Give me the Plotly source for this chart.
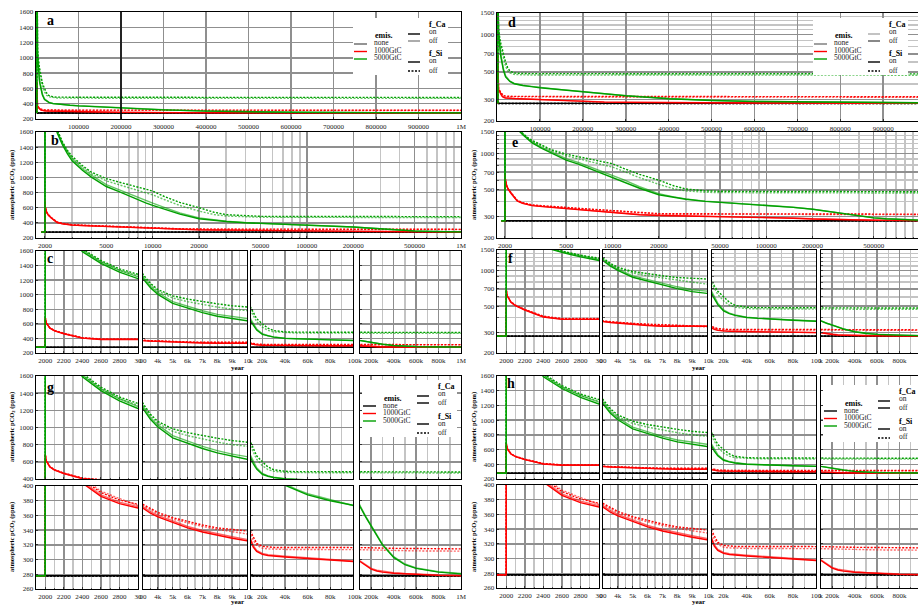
import math
import plotly.graph_objects as go

W, H = 918, 605

# ---------------- data ----------------
years = [1900, 1999, 2000, 2010, 2050, 2100, 2200, 2300, 2400, 2600,
         2800, 3000, 3500, 4000, 5000, 6000, 7000, 8000, 9000, 10000,
         12000, 15000, 20000, 25000, 30000, 40000, 50000, 60000, 80000, 100000,
         150000, 200000, 250000, 300000, 400000, 500000, 600000, 800000, 1000000]

none_si_on_ca_on = [278, 278, 278, 278, 278, 278, 278, 278, 278, 278,
                    278, 278, 278, 278, 278, 278, 278, 278, 278, 278,
                    278, 278, 278, 278, 278, 278, 278, 278, 278, 278,
                    278, 278, 278, 278, 278, 278, 278, 278, 278]
none_si_on_ca_off = [278, 278, 278, 278, 278, 278, 278, 278, 278, 278,
                     278, 278, 278, 278, 278, 278, 278, 278, 278, 278,
                     278, 278, 278, 278, 278, 278, 278, 278, 278, 278,
                     278, 278, 278, 278, 278, 278, 278, 278, 278]
none_si_off_ca_on = [277.6, 277.6, 277.6, 277.6, 277.6, 277.6, 277.6, 277.6, 277.6, 277.6,
                     277.6, 277.6, 277.6, 277.6, 277.6, 277.6, 277.6, 277.6, 277.6, 277.6,
                     277.6, 277.6, 277.6, 277.6, 277.6, 277.6, 277.6, 277.6, 277.6, 277.6,
                     277.6, 277.6, 277.6, 277.6, 277.6, 277.6, 277.6, 277.6, 277.6]
none_si_off_ca_off = [277.6, 277.6, 277.6, 277.6, 277.6, 277.6, 277.6, 277.6, 277.6, 277.6,
                      277.6, 277.6, 277.6, 277.6, 277.6, 277.6, 277.6, 277.6, 277.6, 277.6,
                      277.6, 277.6, 277.6, 277.6, 277.6, 277.6, 277.6, 277.6, 277.6, 277.6,
                      277.6, 277.6, 277.6, 277.6, 277.6, 277.6, 277.6, 277.6, 277.6]

red_si_on_ca_on = [278, 278, 685, 612, 540, 504, 464, 431, 404, 386,
                   376, 370, 363, 358, 350, 343, 337.5, 333, 329, 325.5,
                   317, 311, 307, 305.5, 304.5, 303.5, 302.5, 301.5, 299.5, 297,
                   291.5, 287, 284.5, 283, 281.5, 280.5, 279.5, 278.5, 278]
red_si_on_ca_off = [278, 278, 687, 615, 543, 506, 466, 433, 406, 388,
                    378, 372, 365, 360, 352, 345, 339.5, 335, 331, 327.5,
                    319, 312.5, 308.5, 306.5, 305.5, 304.5, 303.5, 302.5, 300.5, 298,
                    292.5, 288, 285.5, 284, 282, 281, 280, 279, 278.5]
red_si_off_ca_on = [278, 278, 686, 614, 543, 507, 468, 436, 409, 391,
                    381, 375, 369, 364, 357, 351.5, 347, 343, 340, 337,
                    329, 322, 318, 317, 316.5, 316.5, 316.5, 316.5, 316.5, 316.5,
                    316.3, 316, 315.8, 315.6, 315.3, 315, 314.8, 314.6, 314.5]
red_si_off_ca_off = [278, 278, 688, 617, 545, 509, 470, 438, 411, 393,
                     383, 373.5, 367.5, 362, 355, 349.5, 345, 341, 337, 334,
                     326, 319.5, 315.5, 314.5, 314, 313.8, 313.7, 313.6, 313.5, 313.5,
                     313.3, 313, 312.8, 312.6, 312.3, 312, 311.8, 311.6, 311.5]

green_si_on_ca_on = [278, 278, 2900, 2750, 2500, 2330, 2040, 1790, 1590, 1430,
                     1310, 1220, 1095, 1005, 880, 815, 755, 705, 665, 630,
                     580, 515, 455, 432, 418, 401, 394, 388, 380, 372,
                     358, 345, 332, 320, 303, 293, 288, 283, 280.5]
green_si_on_ca_off = [278, 278, 2920, 2770, 2520, 2350, 2060, 1810, 1610, 1450,
                      1335, 1245, 1115, 1030, 905, 840, 780, 730, 690, 660,
                      600, 530, 465, 437, 421, 403, 395.5, 389.5, 381.5, 373.5,
                      359, 346, 333, 321, 304, 294, 288.5, 283.5, 281]
green_si_off_ca_on = [278, 278, 2950, 2800, 2550, 2380, 2090, 1840, 1630, 1470,
                      1355, 1280, 1155, 1070, 985, 940, 905, 875, 848, 820,
                      745, 670, 600, 540, 508, 490, 486, 485, 484, 484,
                      484, 484, 483.5, 483.5, 483, 483, 482.5, 482.5, 482]
green_si_off_ca_off = [278, 278, 2930, 2780, 2530, 2360, 2070, 1820, 1610, 1455,
                       1335, 1260, 1135, 1050, 955, 905, 865, 830, 800, 770,
                       705, 630, 555, 510, 490, 477, 474, 473, 472, 472,
                       472, 472, 471.5, 471.5, 471, 471, 470.5, 470.5, 470]

emission_labels = ["none", "1000GtC", "5000GtC"]
switch_labels = ["on", "off"]

# tick values / labels
lin_x_ticks = [100000, 200000, 300000, 400000, 500000, 600000, 700000, 800000, 900000, 1000000]
lin_x_text = ["100000", "200000", "300000", "400000", "500000", "600000", "700000", "800000", "900000", "1M"]
log_x_ticks = [2000, 5000, 10000, 20000, 50000, 100000, 200000, 500000, 1000000]
log_x_text = ["2000", "5000", "10000", "20000", "50000", "100000", "200000", "500000", "1M"]
log_x_minor = [3000, 4000, 6000, 7000, 8000, 9000, 30000, 40000, 60000, 70000, 80000, 90000,
               300000, 400000, 600000, 700000, 800000, 900000]
seg1_ticks = [2000, 2200, 2400, 2600, 2800, 3000]
seg1_text = ["2000", "2200", "2400", "2600", "2800", "30"]
seg1_minor = [1900, 2100, 2300, 2500, 2700, 2900]
seg2_ticks = [3000, 4000, 5000, 6000, 7000, 8000, 9000, 10000]
seg2_text = ["00", "4k", "5k", "6k", "7k", "8k", "9k", "10"]
seg2_minor = [3500, 4500, 5500, 6500, 7500, 8500, 9500]
seg3_ticks = [10000, 20000, 40000, 60000, 80000, 100000]
seg3_text = ["k", "20k", "40k", "60k", "80k", "100"]
seg3_minor = [30000, 50000, 70000, 90000]
seg4_ticks = [100000, 200000, 400000, 600000, 800000, 1000000]
seg4_text = ["k", "200k", "400k", "600k", "800k", "1M"]
seg4_minor = [300000, 500000, 700000, 900000]
seg_ranges_left = [[1900, 3000], [3000, 10000], [10000, 100000], [100000, 1000000]]
seg_ranges_right = [[1900, 3000], [3000, 10000], [10000, 100000], [100000, 965000]]

y_full_ticks = [200, 400, 600, 800, 1000, 1200, 1400, 1600]
y_upper_ticks = [400, 600, 800, 1000, 1200, 1400, 1600]
y_lower_ticks = [260, 280, 300, 320, 340, 360, 380, 400]
y_log_ticks = [200, 300, 500, 700, 1000, 1500]
y_log_minor = [400, 600, 800, 900, 1100, 1200, 1300, 1400]

# ---------------- styling ----------------
FONT = "Liberation Serif"
COLORS = {"none": "#000000", "1000GtC": "#ff0000", "5000GtC": "#00a000"}
series = [
    ("none", "on", "on", none_si_on_ca_on), ("none", "on", "off", none_si_on_ca_off),
    ("none", "off", "on", none_si_off_ca_on), ("none", "off", "off", none_si_off_ca_off),
    ("1000GtC", "on", "on", red_si_on_ca_on), ("1000GtC", "on", "off", red_si_on_ca_off),
    ("1000GtC", "off", "on", red_si_off_ca_on), ("1000GtC", "off", "off", red_si_off_ca_off),
    ("5000GtC", "on", "on", green_si_on_ca_on), ("5000GtC", "on", "off", green_si_on_ca_off),
    ("5000GtC", "off", "on", green_si_off_ca_on), ("5000GtC", "off", "off", green_si_off_ca_off),
]

fig = go.Figure()
layout = dict(width=W, height=H, autosize=False, margin=dict(l=0, r=0, t=0, b=0, pad=0, autoexpand=False),
              paper_bgcolor="white", plot_bgcolor="white", showlegend=False,
              font=dict(family=FONT, size=7, color="#222"))
shapes = []
annotations = []
count = [0]


def minor_style(vals):
    return dict(tickmode="array", tickvals=vals, showgrid=True, gridcolor="#c4c4c4",
                gridwidth=1.5, ticks="inside", ticklen=1.5, tickcolor="#555")


def base_axis():
    return dict(showline=True, mirror=True, linecolor="black", linewidth=1.4,
                showgrid=True, gridcolor="#8f8f8f", gridwidth=1.5, zeroline=False,
                ticks="inside", ticklen=2, tickcolor="#333", tickwidth=1,
                automargin=False, tickangle=0,
                tickfont=dict(family=FONT, size=7, color="#222"), tickmode="array")


def ax(kind, rng, tv, tt=None, minor=None, labels=True):
    d = base_axis()
    if kind == "log":
        d["type"] = "log"
        d["range"] = [math.log10(rng[0]), math.log10(rng[1])]
    else:
        d["type"] = "linear"
        d["range"] = rng
    d["tickvals"] = tv
    d["ticktext"] = tt if tt is not None else [str(v) for v in tv]
    d["showticklabels"] = labels
    if minor:
        d["minor"] = minor_style(minor)
    return d


def add_subplot(xpx, ypx, xa, ya, emissions=("none", "1000GtC", "5000GtC")):
    count[0] += 1
    n = count[0]
    sfx = "" if n == 1 else str(n)
    xref, yref = "x" + sfx, "y" + sfx
    xa = dict(xa, domain=[xpx[0] / W, xpx[1] / W], anchor=yref)
    ya = dict(ya, domain=[1 - ypx[1] / H, 1 - ypx[0] / H], anchor=xref)
    layout["xaxis" + sfx] = xa
    layout["yaxis" + sfx] = ya
    for emis, si, ca, vals in series:
        if emis not in emissions:
            continue
        fig.add_trace(go.Scatter(
            x=years, y=vals, xaxis=xref, yaxis=yref, mode="lines", hoverinfo="skip",
            opacity=1.0 if ca == "on" else 0.6,
            line=dict(color=COLORS[emis], width=1.4,
                      dash="solid" if si == "on" else "2px,1.5px")))
    return xref, yref


# ---------------- panels ----------------
seg_ticks = [(seg1_ticks, seg1_text, seg1_minor), (seg2_ticks, seg2_text, seg2_minor),
             (seg3_ticks, seg3_text, seg3_minor), (seg4_ticks, seg4_text, seg4_minor)]
left_segs = [[36, 138], [143, 247], [251, 353], [360, 461]]
right_segs = [[497, 599], [603, 707], [712, 816], [821, 918]]

# left column
xa_ref, _ = add_subplot([36, 461], [12, 119],
                        ax("lin", [0, 1000000], lin_x_ticks, lin_x_text),
                        ax("lin", [200, 1600], y_full_ticks))
shapes.append(dict(type="line", xref=xa_ref, yref="y domain", x0=200000, x1=200000, y0=0, y1=1,
                   line=dict(color="black", width=1.5)))
add_subplot([36, 461], [132, 238],
            ax("log", [1750, 1000000], log_x_ticks, log_x_text, log_x_minor),
            ax("lin", [200, 1600], y_full_ticks))
for i, (xp, (tv, tt, mn)) in enumerate(zip(left_segs, seg_ticks)):
    add_subplot(xp, [251, 353], ax("lin", seg_ranges_left[i], tv, tt, mn),
                ax("lin", [200, 1600], y_full_ticks, labels=(i == 0)))
for i, (xp, (tv, tt, mn)) in enumerate(zip(left_segs, seg_ticks)):
    add_subplot(xp, [376, 479], ax("lin", seg_ranges_left[i], tv, tt, mn, labels=False),
                ax("lin", [400, 1600], y_upper_ticks, labels=(i == 0)))
for i, (xp, (tv, tt, mn)) in enumerate(zip(left_segs, seg_ticks)):
    add_subplot(xp, [486, 589], ax("lin", seg_ranges_left[i], tv, tt, mn),
                ax("lin", [260, 400], y_lower_ticks, labels=(i == 0)))

# right column
add_subplot([497, 918], [13, 121],
            ax("lin", [0, 981000], lin_x_ticks, lin_x_text),
            ax("log", [200, 1500], y_log_ticks, minor=y_log_minor))
add_subplot([497, 918], [132, 238],
            ax("log", [1775, 970000], log_x_ticks, log_x_text, log_x_minor),
            ax("log", [200, 1500], y_log_ticks, minor=y_log_minor))
for i, (xp, (tv, tt, mn)) in enumerate(zip(right_segs, seg_ticks)):
    add_subplot(xp, [250, 353], ax("lin", seg_ranges_right[i], tv, tt, mn),
                ax("log", [200, 1500], y_log_ticks, minor=y_log_minor, labels=(i == 0)))
for i, (xp, (tv, tt, mn)) in enumerate(zip(right_segs, seg_ticks)):
    add_subplot(xp, [376, 479], ax("lin", seg_ranges_right[i], tv, tt, mn, labels=False),
                ax("lin", [200, 1600], y_full_ticks, labels=(i == 0)))
for i, (xp, (tv, tt, mn)) in enumerate(zip(right_segs, seg_ticks)):
    add_subplot(xp, [485, 588], ax("lin", seg_ranges_right[i], tv, tt, mn),
                ax("lin", [260, 400], y_lower_ticks, labels=(i == 0)),
                emissions=("none", "1000GtC"))


# ---------------- annotations ----------------
def px_note(x, y, text, size=7, bold=False, xanchor="left", angle=0, color="#000000"):
    annotations.append(dict(x=x / W, y=1 - y / H, xref="paper", yref="paper",
                            text=("<b>%s</b>" % text) if bold else text, showarrow=False,
                            xanchor=xanchor, yanchor="middle", textangle=angle,
                            font=dict(family=FONT, size=size, color=color)))


for letter, (lx, ly) in {"a": (45, 20), "b": (49, 140), "c": (45, 259), "g": (45, 387),
                         "d": (506, 23), "e": (510, 142), "f": (506, 259), "h": (505, 383)}.items():
    px_note(lx, ly, letter, size=14, bold=True)

ytitle = "atmospheric pCO<sub>2</sub> (ppm)"
for (tx, ty) in [(12, 185), (474, 185), (12, 427), (12, 537), (474, 427), (474, 537)]:
    px_note(tx, ty, ytitle, size=6.5, bold=True, xanchor="center", angle=-90)
for (tx, ty) in [(237, 368), (698, 368), (237, 602), (698, 602)]:
    px_note(tx, ty, "year", size=7, bold=True, xanchor="center")


def legend(ox, oy, none_col, ca_on_col, ca_off_col):
    def ln(x0, x1, y, col, dash="solid"):
        shapes.append(dict(type="line", xref="paper", yref="paper",
                           x0=(ox + x0) / W, x1=(ox + x1) / W,
                           y0=1 - (oy + y) / H, y1=1 - (oy + y) / H,
                           line=dict(color=col, width=1.4, dash=dash)))
    shapes.append(dict(type="rect", xref="paper", yref="paper",
                       x0=ox / W, x1=(ox + 95) / W, y0=1 - (oy + 57) / H, y1=1 - oy / H,
                       fillcolor="white", line=dict(width=0)))
    px_note(ox + 20, oy + 18, "emis.", size=8, bold=True)
    cols = [none_col, COLORS["1000GtC"], COLORS["5000GtC"]]
    for k, lab in enumerate(emission_labels):
        ln(1, 14, 26 + 7.5 * k, cols[k])
        px_note(ox + 19, oy + 25 + 7.5 * k, lab, size=7.5, color="#222222")
    px_note(ox + 74, oy + 6, "f_Ca", size=8, bold=True)
    ln(55, 67, 16, ca_on_col)
    ln(55, 67, 23, ca_off_col)
    px_note(ox + 74, oy + 13, switch_labels[0], size=7.5, color="#222222")
    px_note(ox + 74, oy + 22, switch_labels[1], size=7.5, color="#222222")
    px_note(ox + 74, oy + 36, "f_Si", size=8, bold=True)
    ln(55, 67, 44, "black")
    ln(55, 67, 53, "black", dash="2px,1.5px")
    px_note(ox + 74, oy + 43, switch_labels[0], size=7.5, color="#222222")
    px_note(ox + 74, oy + 52, switch_labels[1], size=7.5, color="#222222")


legend(353, 18, "#666666", "#000000", "#888888")
legend(813, 18, "#777777", "#aaaaaa", "#555555")
legend(362, 380, "#000000", "#000000", "#000000")
legend(823, 385, "#000000", "#000000", "#000000")

layout["shapes"] = shapes
layout["annotations"] = annotations
fig.update_layout(**layout)
fig.write_html("out.html", config={"displayModeBar": False, "staticPlot": True},
               post_script="document.body.style.margin='0';document.body.style.padding='0';"
                           "document.body.style.overflow='hidden';")
